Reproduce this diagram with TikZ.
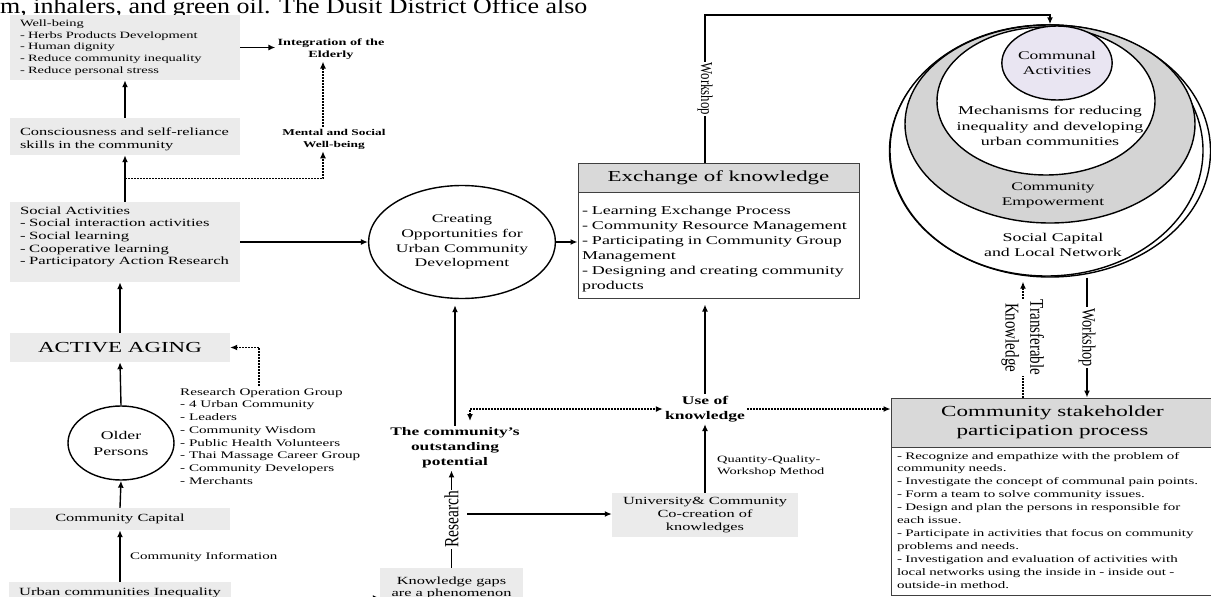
\documentclass[tikz,border=0pt]{standalone}
\usepackage{fontspec}
\setmainfont[FakeStretch=1.5]{Liberation Serif}
\newfontfamily\rotfont{Liberation Serif}
\usetikzlibrary{arrows.meta,shapes.geometric,calc}
\definecolor{boxgray}{HTML}{EBEBEB}
\definecolor{headgray}{HTML}{D9D9D9}
\definecolor{ringgray}{HTML}{D4D4D4}
\definecolor{lav}{HTML}{E9E5F2}
\newcommand\fs[2]{\fontsize{#1pt}{#2pt}\selectfont}
\newcommand\tl[1]{\begin{tabular}{@{}l@{}}#1\end{tabular}}
\newcommand\tc[1]{\begin{tabular}{@{}c@{}}#1\end{tabular}}
\newcommand\up[2]{\raisebox{#1}[\height][\depth]{#2}}
\tikzset{
  gbox/.style={fill=boxgray, draw=none, inner xsep=10pt, inner ysep=0pt},
  btxt/.style={align=center, inner sep=2pt},
  ell/.style={ellipse, draw, line width=1.4pt, align=center, inner sep=0pt},
  bigell/.style={ellipse, draw, line width=1.4pt, inner sep=0pt},
  arr/.style={line width=1.4pt, -{Latex[length=7pt,width=6pt]}},
  darr/.style={line width=1.3pt, dash pattern=on 1.6pt off 1.4pt, -{Latex[length=7pt,width=6pt]}},
  darrb/.style={line width=1.3pt, dash pattern=on 1.6pt off 1.4pt, {Latex[length=7pt,width=6pt]}-{Latex[length=7pt,width=6pt]}},
  rotl/.style={fill=white, inner sep=1pt, align=center},
  framed/.style={draw=black!75, line width=1pt}
}
\begin{document}
\begin{tikzpicture}[x=1pt,y=-1pt]
\useasboundingbox (0,0) rectangle (1211,597);
\clip (0,0) rectangle (1211,597);

% top cut text
\node[anchor=base west, inner sep=0pt] (toptext) at (0,13) {\scalebox{1.18}[1]{\rotfont\fs{22}{24}m, inhalers, and green oil. The Dusit District Office also}};

% ---------- left column
\node[gbox, text width=210pt, minimum height=65pt, align=left, font=\fs{9.65}{11.8}] (wb) at (125,47.5)
  {\tl{Well-being\\- Herbs Products Development\\- Human dignity\\- Reduce community inequality\\- Reduce personal stress}};
\node[btxt, font=\bfseries\fs{9.5}{12}] (integ) at (331,49) {Integration of the\\Elderly};
\node[btxt, font=\bfseries\fs{8.9}{12}] (mental) at (334,139) {Mental and Social\\Well-being};
\node[gbox, text width=210pt, minimum height=37pt, align=left, font=\fs{10.95}{13}] (cs) at (125,136.5)
  {\up{-3pt}{\tl{Consciousness and self-reliance\\skills in the community}}};
\node[gbox, text width=210pt, minimum height=80pt, align=left, font=\fs{11.1}{12.7}] (sa) at (125,242)
  {\up{5pt}{\tl{Social Activities\\- Social interaction activities\\- Social learning\\- Cooperative learning\\- Participatory Action Research}}};
\node[gbox, minimum width=220pt, minimum height=29pt, align=center, font=\fs{15.3}{18}] (aa) at (120,347.5) {ACTIVE AGING};
\node[ell, minimum width=106pt, minimum height=74pt, font=\fs{11.8}{16}] (older) at (121,443) {Older\\Persons};
\node[anchor=north west, inner sep=0pt, align=left, font=\fs{10.1}{12.7}] (rog) at (180,388)
  {Research Operation Group\\- 4 Urban Community\\- Leaders\\- Community Wisdom\\- Public Health Volunteers\\- Thai Massage Career Group\\- Community Developers\\- Merchants};
\node[gbox, minimum width=220pt, minimum height=22pt, align=center, font=\fs{10.9}{13}] (cc) at (120,519) {Community Capital};
\node[anchor=west, inner sep=0pt, font=\fs{10}{12}] (cinfo) at (130,557) {Community Information};
\node[gbox, minimum width=220pt, minimum height=22pt, align=center, font=\fs{11}{13}] (urban) at (120,593) {Urban communities Inequality};

\draw[arr] (urban.north) -- (cc.south);
\draw[arr] (cc.north) -- (older.south);
\draw[arr] (older.north) -- (aa.south);
\draw[arr] (aa.north) -- (aa.north |- sa.south);
\draw[arr] (sa.north) -- (cs.south);
\draw[arr] (cs.north) -- (wb.south);
\draw[arr] (wb.east) -- (integ.west |- wb.east);
\coordinate (xm) at (323,0);
\draw[darr] (mental.north -| xm) -- (integ.south -| xm);
\coordinate (dst) at ($(sa.north)!0.5!(cs.south)$);
\draw[darr] (dst) -| (mental.south -| xm);
\coordinate (rogc) at (259,386);
\draw[darr] (rogc) |- (aa.east);

% ---------- middle
\node[ell, minimum width=163pt, minimum height=113pt, font=\fs{11.7}{14.8}] (create) at (462,242)
  {Creating\\Opportunities for\\Urban Community\\Development};
\node[framed, fill=headgray, minimum width=281pt, minimum height=29pt, inner sep=0pt, font=\fs{15.3}{18}] (exhead) at (718.5,177.5) {Exchange of knowledge};
\node[framed, fill=white, text width=273pt, inner xsep=4pt, inner ysep=0pt, minimum height=106pt, align=left, font=\fs{12}{15}] (exbody) at (718.5,245)
  {\up{-3.5pt}{\tl{- Learning Exchange Process\\- Community Resource Management\\- Participating in Community Group\\Management\\- Designing and creating community\\products}}};
\node[btxt, font=\bfseries\fs{11.6}{15}] (potential) at (455,448) {The community's\\outstanding\\potential};
\node[btxt, font=\bfseries\fs{11.7}{15}] (useknow) at (705,409) {Use of\\knowledge};
\node[gbox, inner xsep=0pt, minimum width=186pt, minimum height=44pt, align=center, font=\fs{10.9}{12.7}] (univ) at (705,515)
  {University\& Community\\Co-creation of\\knowledges};
\node[anchor=west, inner sep=0pt, align=left, font=\fs{9.6}{12}] (qq) at (717,466) {Quantity-Quality-\\Workshop Method};
\node[gbox, inner xsep=0pt, minimum width=143pt, minimum height=40pt, align=center, font=\fs{10.9}{11.7}] (kgap) at (451.5,588)
  {Knowledge gaps\\are a phenomenon};

\draw[arr] (sa.east) -- (create.west);
\draw[arr] (create.east) -- (create.east -| exbody.west);
\draw[arr, shorten >=6pt] (potential.north) -- (potential.north |- create.south);
\coordinate (dd) at (470,421);
\draw[darrb] (dd) |- (useknow.west);
\draw[arr, shorten >=6pt] (useknow.north) -- (useknow.north |- exbody.south);
\draw[arr] (univ.north) -- (useknow.south);
\draw[arr] (kgap.north) -- node[rotl, rotate=90, font=\rotfont\fs{15.5}{18}] (reslab) {\scalebox{1}[1.3]{Research}} (kgap.north |- potential.south);
\coordinate (ra) at (467,514);
\draw[arr] (ra) -- (ra -| univ.west);
\coordinate (ua) at (231,598);
\draw[arr] (ua) -- (ua -| kgap.west);

% ---------- right ellipses
\node[bigell, fill=white, minimum width=321pt, minimum height=252pt] (eout) at (1050,151) {};
\node[bigell, fill=white, minimum width=313pt, minimum height=251pt] (eout2) at (1046.5,150.5) {};
\node[bigell, fill=ringgray, minimum width=290pt, minimum height=198pt] (egray) at (1050,124) {};
\node[bigell, fill=white, minimum width=218pt, minimum height=148pt] (emech) at (1046,101) {};
\node[ell, fill=lav, minimum width=102pt, minimum height=74pt, font=\fs{11.7}{15}] (ecomm) at (1057,63) {Communal\\Activities};
\node[align=center, inner sep=0pt, font=\fs{12}{15.5}] (mechtxt) at (1050,126) {Mechanisms for reducing\\inequality and developing\\urban communities};
\node[align=center, inner sep=0pt, font=\fs{11.6}{15}] (emptxt) at (1053,195) {Community\\Empowerment};
\node[align=center, inner sep=0pt, font=\fs{11.9}{15}] (soctxt) at (1053,245) {Social Capital\\and Local Network};

\coordinate (wtop) at (705,15);
\draw[arr] (exhead.north -| wtop) -- node[rotl, rotate=-90, font=\rotfont\fs{12.8}{15}] (wslab1) {\scalebox{1}[1.3]{Workshop}} (wtop) -| (eout.north);

% ---------- stakeholder box
\node[framed, fill=headgray, minimum width=323pt, minimum height=49pt, inner sep=0pt, align=center, font=\fs{15.4}{18.5}] (cshead) at (1052.5,422.5)
  {Community stakeholder\\participation process};
\node[framed, fill=white, text width=311pt, inner xsep=6pt, inner ysep=0pt, minimum height=148pt, align=left, font=\fs{10}{12.9}] (csbody) at (1052.5,521)
  {\tl{- Recognize and empathize with the problem of\\community needs.\\- Investigate the concept of communal pain points.\\- Form a team to solve community issues.\\- Design and plan the persons in responsible for\\each issue.\\- Participate in activities that focus on community\\problems and needs.\\- Investigation and evaluation of activities with\\local networks using the inside in - inside out -\\outside-in method.}};

\draw[darr] (useknow.east) -- (useknow.east -| cshead.west);
\coordinate (tx) at (1023,0);
\draw[darr, shorten >=4pt] (cshead.north -| tx) -- node[rotl, rotate=-90, font=\rotfont\fs{15}{19}] (tklab) {\scalebox{1}[1.3]{\tc{Transferable\\Knowledge}}} (eout.south -| tx);
\coordinate (wx) at (1087,0);
\draw[arr] (eout.south -| wx) -- node[rotl, rotate=-90, font=\rotfont\fs{14.4}{17}] (wslab2) {\scalebox{1}[1.3]{Workshop}} (cshead.north -| wx);
\end{tikzpicture}
\end{document}
